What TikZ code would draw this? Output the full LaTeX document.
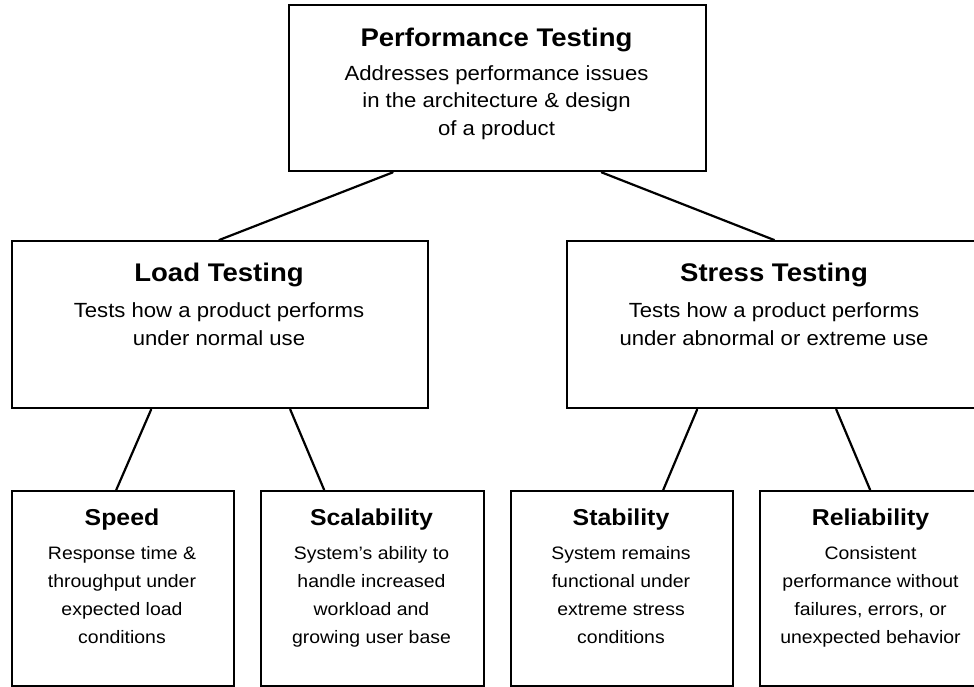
\documentclass[tikz,border=0pt]{standalone}
\usepackage{fontspec}
\setmainfont{Liberation Sans}[FakeStretch=1.08]
\begin{document}
\begin{tikzpicture}[x=1pt,y=-1pt,
  box/.style={draw=black,line width=2.4pt,rectangle,inner sep=0pt,anchor=north west},
  bigtitle/.style={font=\fontsize{25.5}{30}\selectfont\bfseries,inner sep=0pt},
  bigdesc/.style={font=\fontsize{20.5}{27.5}\selectfont,align=center,inner sep=0pt},
  smalltitle/.style={font=\fontsize{23}{27}\selectfont\bfseries,inner sep=0pt},
  smalldesc/.style={font=\fontsize{18}{28}\selectfont,align=center,inner sep=0pt},
  link/.style={line width=2.2pt,line cap=round}]
\useasboundingbox (0,0) rectangle (974,686);
\clip (0,0) rectangle (974,686);
\fill[white] (0,0) rectangle (974,686);

% boxes
\node[box,minimum width=417pt,minimum height=166pt] (perf) at (288,4) {};
\node[box,minimum width=416pt,minimum height=167pt] (load) at (11,240) {};
\node[box,minimum width=416pt,minimum height=167pt] (stress) at (566,240) {};
\node[box,minimum width=222pt,minimum height=195pt] (speed) at (11,490) {};
\node[box,minimum width=223pt,minimum height=195pt] (scal) at (260,490) {};
\node[box,minimum width=222pt,minimum height=195pt] (stab) at (510,490) {};
\node[box,minimum width=223pt,minimum height=195pt] (rel) at (759,490) {};

% texts (a \strut on the last line keeps every block the same depth)
\node[bigtitle] (perf-t) at (496.5,40) {Performance Testing};
\node[bigdesc] (perf-d) at (496.5,102.5) {Addresses performance issues\\in the architecture \& design\\of a product};
\node[bigtitle] (load-t) at (219,274.5) {Load Testing};
\node[bigdesc] (load-d) at (219,324) {Tests how a product performs\\under normal use};
\node[bigtitle] (stress-t) at (774,274.5) {Stress Testing};
\node[bigdesc] (stress-d) at (774,324) {Tests how a product performs\\under abnormal or extreme use};

\node[smalltitle] (speed-t) at (122,520) {Speed};
\node[smalldesc] (speed-d) at (122,599.2) {Response time \&\\throughput under\\expected load\\conditions\strut};
\node[smalltitle] (scal-t) at (371.5,520) {Scalability};
\node[smalldesc] (scal-d) at (371.5,599.2) {System's ability to\\handle increased\\workload and\\growing user base\strut};
\node[smalltitle] (stab-t) at (621,520) {Stability};
\node[smalldesc] (stab-d) at (621,599.2) {System remains\\functional under\\extreme stress\\conditions\strut};
\node[smalltitle] (rel-t) at (870.5,520) {Reliability};
\node[smalldesc] (rel-d) at (870.5,599.2) {Consistent\\performance without\\failures, errors, or\\unexpected behavior\strut};

% connectors
\draw[link] ([xshift=-105pt]perf.south) -- ([xshift=-1pt]load.north);
\draw[link] ([xshift=104pt]perf.south) -- ([xshift=-1pt]stress.north);
\draw[link] ([xshift=-69pt]load.south) -- ([xshift=-7pt]speed.north);
\draw[link] ([xshift=70pt]load.south) -- ([xshift=-48.5pt]scal.north);
\draw[link] ([xshift=-78pt]stress.south) -- ([xshift=41pt]stab.north);
\draw[link] ([xshift=61pt]stress.south) -- ([xshift=-1.5pt]rel.north);
\end{tikzpicture}
\end{document}
